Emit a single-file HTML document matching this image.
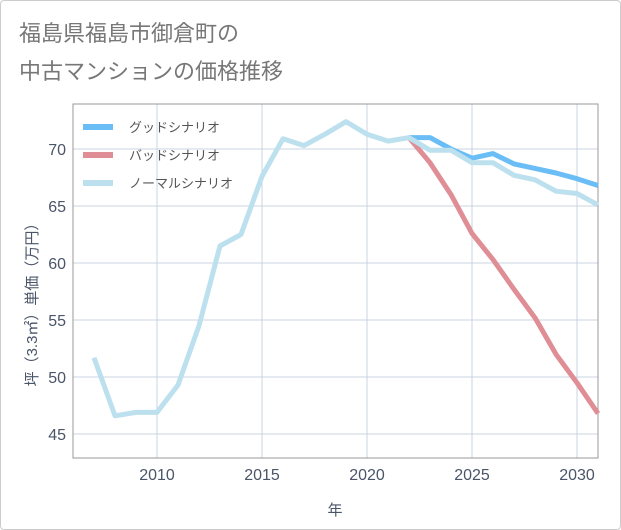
<!DOCTYPE html>
<html><head><meta charset="utf-8"><style>
body{margin:0;background:#fff;}
#wrap{position:relative;width:619px;height:528px;border:1px solid #ccc;border-radius:4px;background:#fff;overflow:hidden;}
svg text{font-family:"Liberation Sans","Noto Sans CJK JP",sans-serif;}
</style></head><body>
<div id="wrap">
<svg id="chart" width="621" height="530">
<text x="18" y="40" font-size="22" fill="#777">福島県福島市御倉町の</text>
<text x="18" y="78" font-size="22" fill="#777">中古マンションの価格推移</text>
<g id="grid"></g><g id="series"></g><g id="legend"></g>
</svg>
</div>
<script>
const years=[2007,2008,2009,2010,2011,2012,2013,2014,2015,2016,2017,2018,2019,2020,2021,2022,2023,2024,2025,2026,2027,2028,2029,2030,2031];
const normalVals=[51.7,46.6,46.9,46.9,49.3,54.5,61.5,62.5,67.6,70.9,70.3,71.3,72.4,71.3,70.7,71.0,69.9,69.9,68.8,68.8,67.7,67.3,66.3,66.1,65.1];
const futureYears=[2022,2023,2024,2025,2026,2027,2028,2029,2030,2031];
const goodVals=[71.0,71.0,70.0,69.2,69.6,68.7,68.3,67.9,67.4,66.8];
const badVals=[71.0,68.8,66.0,62.6,60.3,57.7,55.2,52.0,49.5,46.8];
const xTicks=[2010,2015,2020,2025,2030];
const yTicks=[45,50,55,60,65,70];
const X0=72,X1=597,Y0=103,Y1=457;
const xMin=2006,xMax=2031,yMin=42.9,yMax=73.95;
const sx=v=>X0+(v-xMin)/(xMax-xMin)*(X1-X0);
const sy=v=>Y1-(v-yMin)/(yMax-yMin)*(Y1-Y0);
const NS="http://www.w3.org/2000/svg";
function mk(tag,attrs,parent){const e=document.createElementNS(NS,tag);for(const k in attrs)e.setAttribute(k,attrs[k]);parent.appendChild(e);return e;}
const grid=document.getElementById('grid');
xTicks.forEach(t=>{
 const l=mk('line',{x1:sx(t),x2:sx(t),y1:Y0,y2:Y1,stroke:'#c8d4e0','stroke-width':1},grid);
 
 
 const tx=mk('text',{x:sx(t),y:479,'font-size':16,fill:'#4a5568','text-anchor':'middle'},grid);tx.textContent=t;
 
 
});
yTicks.forEach(t=>{
 const l=mk('line',{x1:X0,x2:X1,y1:sy(t),y2:sy(t),stroke:'#c8d4e0','stroke-width':1},grid);
 
 
 const tx=mk('text',{x:65,y:sy(t)+6,'font-size':16,fill:'#4a5568','text-anchor':'end'},grid);tx.textContent=t;
 
 
});
const ax=mk('path',{d:`M${X0} ${Y0}V${Y1}H${X1}V${Y0}Z`,fill:'none',stroke:'#999','stroke-width':1},grid);


const xt=mk('text',{x:334,y:514,'font-size':15,fill:'#4a5568','text-anchor':'middle'},grid);xt.textContent='年';


const yt=mk('text',{x:0,y:0,'font-size':15,fill:'#4a5568','text-anchor':'middle',transform:'translate(36,300) rotate(-90)'},grid);yt.textContent='坪（3.3㎡）単価（万円）';


const ser=document.getElementById('series');
function line(xs,vs,color,name){
 const d=xs.map((x,i)=>(i?'L':'M')+sx(x).toFixed(1)+' '+sy(vs[i]).toFixed(1)).join('');
 const p=mk('path',{d:d,fill:'none',stroke:color,'stroke-width':5,'stroke-linejoin':'round'},ser);
 
 
}
line(futureYears,badVals,'#e08e95','bad-scenario-line');
line(futureYears,goodVals,'#6bbdf5','good-scenario-line');
line(years,normalVals,'#bde0ee','normal-scenario-line');
const leg=document.getElementById('legend');
[['グッドシナリオ','#6bbdf5'],['バッドシナリオ','#e08e95'],['ノーマルシナリオ','#bde0ee']].forEach((e,i)=>{
 const y=126+i*28;
 const r=mk('rect',{x:82,y:y-3,width:30,height:6,fill:e[1]},leg);
 
 
 const t=mk('text',{x:128,y:y+5,'font-size':13,fill:'#555'},leg);t.textContent=e[0];
 
 
});
</script>
</body></html>
